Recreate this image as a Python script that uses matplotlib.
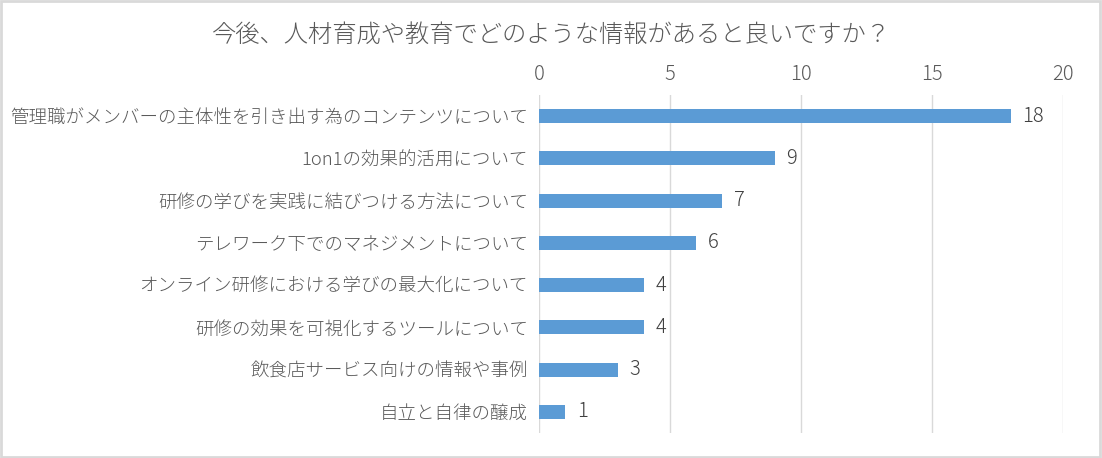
import matplotlib
matplotlib.use('Agg')
import matplotlib.pyplot as plt
from matplotlib.patches import Rectangle

plt.rcParams['font.family'] = ['Noto Sans CJK JP', 'DejaVu Sans']

# データ
title = '今後、人材育成や教育でどのような情報があると良いですか？'
categories = [
    '管理職がメンバーの主体性を引き出す為のコンテンツについて',
    '1on1の効果的活用について',
    '研修の学びを実践に結びつける方法について',
    'テレワーク下でのマネジメントについて',
    'オンライン研修における学びの最大化について',
    '研修の効果を可視化するツールについて',
    '飲食店サービス向けの情報や事例',
    '自立と自律の醸成',
]
counts = [18, 9, 7, 6, 4, 4, 3, 1]
xticks = [0, 5, 10, 15, 20]

fig = plt.figure(figsize=(11.02, 4.58), dpi=100)
ax = fig.add_axes([0.4891, 0.0546, 0.9646 - 0.4891, 0.7926 - 0.0546])

pos = list(range(len(categories)))
ax.barh(pos, counts, height=0.33, color='#5b9bd5', zorder=3)
for y, v in zip(pos, counts):
    ax.text(v + 0.45, y, str(v), va='center', ha='left', fontsize=14.5,
            color='#404040', fontweight='light')

ax.set_xlim(0, 20)
ax.set_ylim(len(categories) - 0.5, -0.5)
ax.set_yticks(pos)
ax.set_yticklabels(categories, fontsize=13.3, color='#595959', fontweight='light')
ax.set_xticks(xticks)
ax.xaxis.tick_top()
ax.tick_params(axis='x', length=0, labelsize=14.5, labelcolor='#595959', pad=7)
for t in ax.get_xticklabels():
    t.set_fontweight('light')
ax.tick_params(axis='y', length=0, pad=8)
ax.grid(axis='x', color='#d9d9d9', linewidth=1, zorder=0)
for s in ax.spines.values():
    s.set_visible(False)

fig.text(0.5, 1 - 35 / 458, title, ha='center', va='center', fontsize=17.5,
         color='#595959', fontweight='light')

# 外枠
fig.patches.append(Rectangle((0.001, 0.002), 0.997, 0.995, transform=fig.transFigure,
                             fill=False, edgecolor='#d9d9d9', linewidth=2))

fig.savefig('out.png', dpi=100)
